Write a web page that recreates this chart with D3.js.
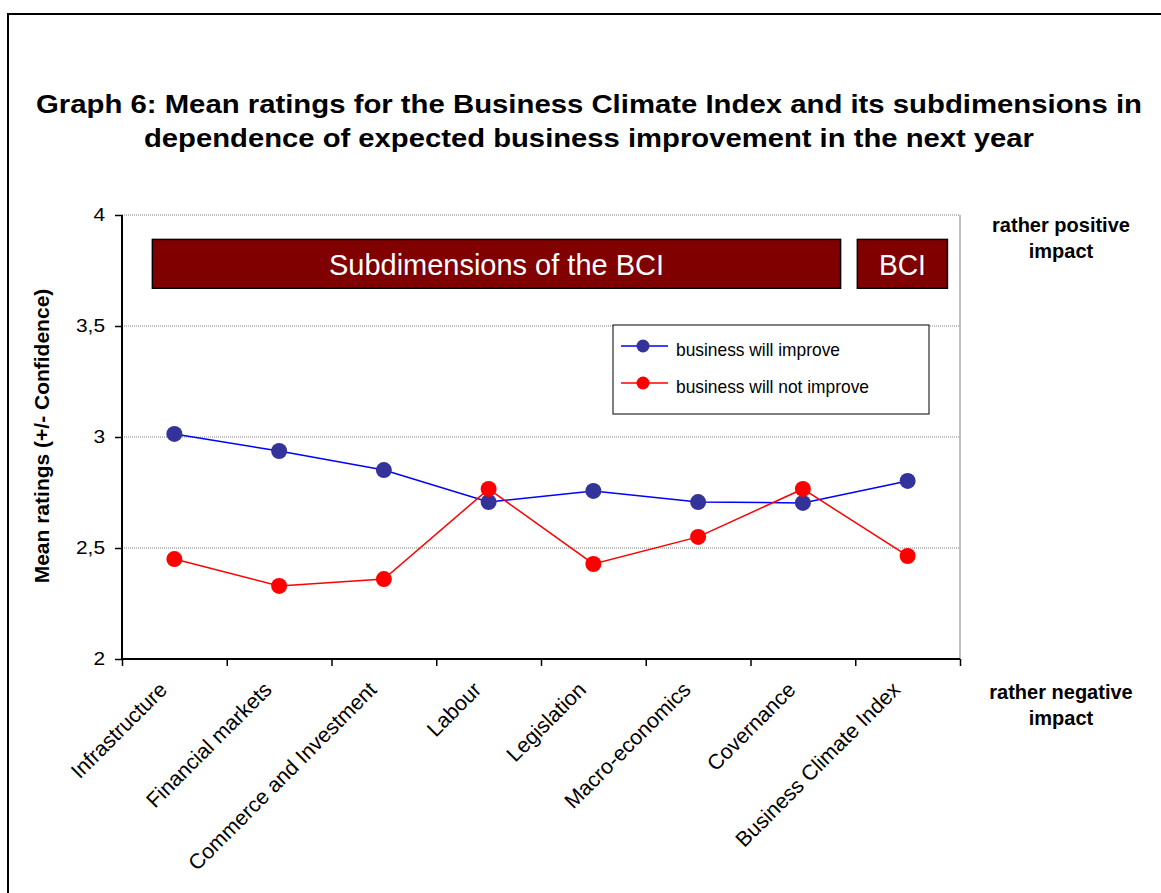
<!DOCTYPE html>
<html>
<head>
<meta charset="utf-8">
<script src="https://cdn.jsdelivr.net/npm/d3@7"></script>
<style>
  body { margin: 0; background: #fff; }
  svg { display: block; font-family: "Liberation Sans", Arial, sans-serif; }
</style>
</head>
<body>
<div id="chart"></div>
<script>
// values
const categories = ["Infrastructure", "Financial markets", "Commerce and Investment", "Labour",
  "Legislation", "Macro-economics", "Covernance", "Business Climate Index"];
const improve = [3.014, 2.937, 2.851, 2.707, 2.757, 2.707, 2.703, 2.802];
const notImprove = [2.450, 2.329, 2.360, 2.766, 2.428, 2.550, 2.766, 2.464];
const yTicks = [2, 2.5, 3, 3.5, 4];
const seriesNames = ["business will improve", "business will not improve"];

const W = 1161, H = 893;
const margin = { left: 122, right: 201, top: 215, bottom: 234 };

const svg = d3.select("#chart").append("svg")
  .attr("width", W)
  .attr("height", H);

// widen a text run to a given length (the reference fonts run wide)
function fitWidth(sel, len) {
  sel.attr("textLength", len).attr("lengthAdjust", "spacingAndGlyphs");
}

// outer frame (runs off the right/bottom edges)
svg.append("rect")
  .attr("x", 8).attr("y", 14)
  .attr("width", 1300).attr("height", 1000)
  .attr("fill", "none").attr("stroke", "#000").attr("stroke-width", 2);

// title
const titleLines = [
  { text: "Graph 6: Mean ratings for the Business Climate Index and its subdimensions in", y: 113, w: 1106 },
  { text: "dependence of expected business improvement in the next year", y: 147, w: 890 }
];
titleLines.forEach(t => {
  svg.append("text")
    .attr("x", 589).attr("y", t.y)
    .attr("text-anchor", "middle")
    .attr("font-weight", "bold")
    .attr("font-size", 25)
    .text(t.text)
    .call(fitWidth, t.w);
});

const x0 = margin.left, x1 = W - margin.right;
const yTop = margin.top, yBot = H - margin.bottom;

const x = d3.scaleLinear().domain([0, categories.length]).range([x0, x1]);
const y = d3.scaleLinear().domain([2, 4]).range([yBot, yTop]);

// gridlines
svg.append("g").selectAll("line")
  .data(yTicks.filter(d => d > 2))
  .join("line")
  .attr("x1", x0).attr("x2", x1)
  .attr("y1", d => y(d)).attr("y2", d => y(d))
  .attr("stroke", "#808080").attr("stroke-width", 1)
  .attr("stroke-dasharray", "1,1");

// right border of plot area
svg.append("line")
  .attr("x1", x1).attr("x2", x1).attr("y1", yTop).attr("y2", yBot)
  .attr("stroke", "#808080").attr("stroke-width", 1);

// dark red section boxes
const boxes = [
  { from: 0.29, to: 6.86, label: "Subdimensions of the BCI", w: 335 },
  { from: 7.02, to: 7.88, label: "BCI", w: 47 }
];
const bg = svg.append("g").selectAll("g").data(boxes).join("g");
bg.append("rect")
  .attr("x", d => x(d.from)).attr("y", y(3.89))
  .attr("width", d => x(d.to) - x(d.from))
  .attr("height", y(3.67) - y(3.89))
  .attr("fill", "#800000").attr("stroke", "#000").attr("stroke-width", 1.5);
bg.append("text")
  .attr("x", d => (x(d.from) + x(d.to)) / 2)
  .attr("y", y(3.78) + 11)
  .attr("text-anchor", "middle")
  .attr("fill", "#fff")
  .attr("font-size", 29)
  .attr("textLength", d => d.w)
  .attr("lengthAdjust", "spacingAndGlyphs")
  .text(d => d.label);

// y axis
const yAxis = svg.append("g")
  .attr("transform", `translate(${x0},0)`)
  .call(d3.axisLeft(y).tickValues(yTicks).tickSize(7).tickPadding(10)
    .tickFormat(d => String(d).replace(".", ",")));
yAxis.select(".domain").attr("stroke-width", 2).attr("d", `M0,${yTop}V${yBot}`);
yAxis.selectAll(".tick line").attr("stroke-width", 1.5);
yAxis.selectAll(".tick text")
  .attr("font-size", 18).attr("fill", "#000")
  .attr("font-family", "Liberation Sans, Arial, sans-serif")
  .each(function () {
    d3.select(this).call(fitWidth, this.getComputedTextLength() * 1.16);
  });

// x axis
const xAxis = svg.append("g")
  .attr("transform", `translate(0,${yBot})`)
  .call(d3.axisBottom(x).tickValues(d3.range(categories.length + 1)).tickSize(7).tickFormat(""));
xAxis.select(".domain").attr("stroke-width", 2).attr("d", `M${x0},0H${x1}`);
xAxis.selectAll(".tick line").attr("stroke-width", 1.5);

// rotated category labels
svg.append("g").selectAll("text")
  .data(categories)
  .join("text")
  .attr("transform", (d, i) => `translate(${x(i + 0.5) - 6},${yBot + 32}) rotate(-45)`)
  .attr("text-anchor", "end")
  .attr("font-size", 21.3)
  .text(d => d);

// y axis title
svg.append("text")
  .attr("transform", `translate(49,${(yTop + yBot) / 2 - 1}) rotate(-90)`)
  .attr("text-anchor", "middle")
  .attr("font-weight", "bold")
  .attr("font-size", 21)
  .text("Mean ratings (+/- Confidence)");

// right side annotations
const rightNotes = [
  { lines: ["rather positive", "impact"], y: 232 },
  { lines: ["rather negative", "impact"], y: 699 }
];
rightNotes.forEach(n => {
  n.lines.forEach((l, i) => svg.append("text")
    .attr("x", 1061).attr("y", n.y + i * 26)
    .attr("text-anchor", "middle")
    .attr("font-weight", "bold").attr("font-size", 20)
    .text(l));
});

// series
const series = [
  { name: seriesNames[0], values: improve, line: "#0000ff", dot: "#333399", w: 164 },
  { name: seriesNames[1], values: notImprove, line: "#ff0000", dot: "#ff0000", w: 193 }
];
const line = d3.line().x((d, i) => x(i + 0.5)).y(d => y(d));
series.forEach(s => {
  svg.append("path")
    .attr("d", line(s.values))
    .attr("fill", "none").attr("stroke", s.line).attr("stroke-width", 1.5);
  svg.append("g").selectAll("circle")
    .data(s.values)
    .join("circle")
    .attr("cx", (d, i) => x(i + 0.5))
    .attr("cy", d => y(d))
    .attr("r", 8)
    .attr("fill", s.dot);
});

// legend
const lg = svg.append("g").attr("transform", "translate(613,325)");
lg.append("rect").attr("width", 316).attr("height", 89)
  .attr("fill", "#fff").attr("stroke", "#000").attr("stroke-width", 1);
series.forEach((s, i) => {
  const yy = 21 + i * 37;
  lg.append("line").attr("x1", 8).attr("x2", 55).attr("y1", yy).attr("y2", yy)
    .attr("stroke", s.line).attr("stroke-width", 1.5);
  lg.append("circle").attr("cx", 30).attr("cy", yy).attr("r", 6.5).attr("fill", s.dot);
  lg.append("text").attr("x", 63).attr("y", yy + 10)
    .attr("font-size", 18.5).text(s.name)
    .call(fitWidth, s.w);
});
</script>
</body>
</html>
